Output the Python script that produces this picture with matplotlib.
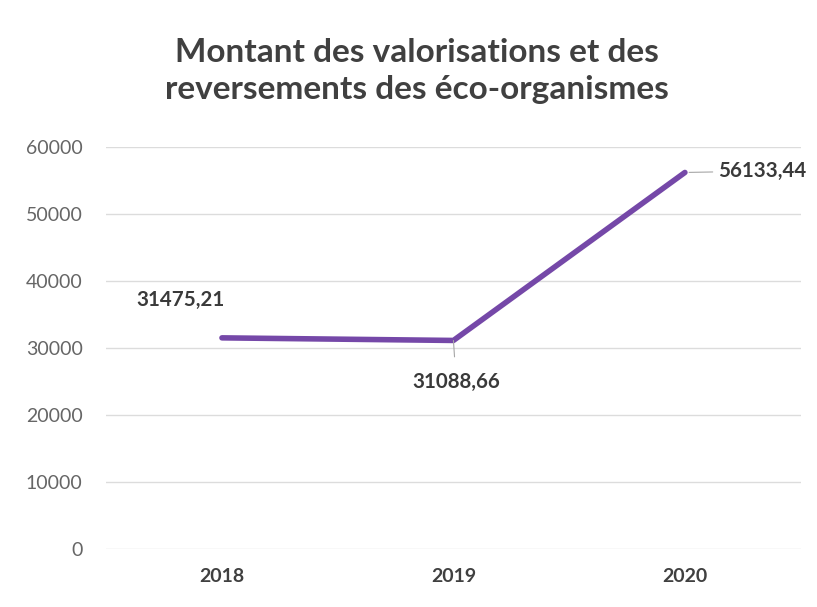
import matplotlib.pyplot as plt

# donnees
annees = ['2018', '2019', '2020']
montants = [31475.21, 31088.66, 56133.44]
etiquettes = ['31475,21', '31088,66', '56133,44']

plt.rcParams['font.family'] = ['Lato', 'DejaVu Sans']

fig = plt.figure(figsize=(8.17, 6.07), dpi=100)
ax = fig.add_axes([0.130, 0.0956, 0.850, 0.663])

x = list(range(len(annees)))
ax.plot(x, montants, color='#7548A8', linewidth=4, solid_capstyle='round', zorder=3)

ax.set_xlim(-0.5, 2.5)
ax.set_ylim(0, 60000)
ax.set_yticks(range(0, 60001, 10000))
ax.set_xticks(x)
ax.set_xticklabels(annees, fontweight='bold', fontsize=14, color='#404040')
ax.tick_params(axis='y', labelsize=14, labelcolor='#666666', length=0, pad=17)
ax.tick_params(axis='x', length=0, pad=14)
ax.grid(axis='y', color='#DCDCDC', linewidth=1)
ax.set_axisbelow(True)
for s in ax.spines.values():
    s.set_visible(False)

# etiquettes des valeurs
ax.annotate(etiquettes[0], (x[0], montants[0]), xytext=(-30, 27), textcoords='offset points',
            ha='center', va='center', fontsize=14.8, fontweight='bold', color='#3A3A3A')
ax.annotate(etiquettes[1], (x[1], montants[1]), xytext=(2, -30), textcoords='offset points',
            ha='center', va='center', fontsize=14.8, fontweight='bold', color='#3A3A3A',
            arrowprops=dict(arrowstyle='-', color='#A6A6A6', lw=0.8, shrinkA=9, shrinkB=0))
ax.annotate(etiquettes[2], (x[2], montants[2]), xytext=(24, 1), textcoords='offset points',
            ha='left', va='center', fontsize=14.8, fontweight='bold', color='#3A3A3A',
            arrowprops=dict(arrowstyle='-', color='#A6A6A6', lw=0.8, shrinkA=2, shrinkB=3))

fig.text(0.51, 0.883, 'Montant des valorisations et des\nreversements des éco-organismes',
         ha='center', va='center', fontsize=24, fontweight='bold', color='#404040',
         linespacing=1.36)

fig.savefig('out.png', dpi=100)
